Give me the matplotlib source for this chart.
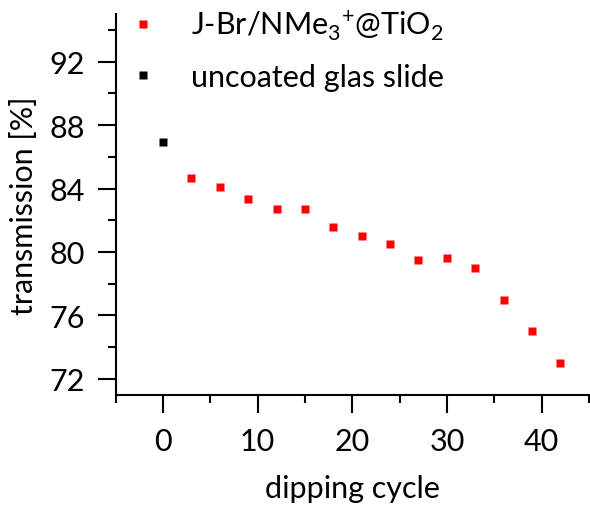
import matplotlib.pyplot as plt
import numpy as np

# data
cycles_coated = [3, 6, 9, 12, 15, 18, 21, 24, 27, 30, 33, 36, 39, 42]
trans_coated = [84.65, 84.1, 83.35, 82.7, 82.7, 81.55, 81.0, 80.5, 79.5, 79.6, 79.0, 77.0, 75.0, 73.0]
cycles_glass = [0]
trans_glass = [86.95]

label_coated = r'J-Br/NMe$_\mathregular{3}$$^\mathregular{+}$@TiO$_\mathregular{2}$'
label_glass = 'uncoated glas slide'

plt.rcParams['font.family'] = ['Lato', 'DejaVu Sans']
plt.rcParams['mathtext.fontset'] = 'custom'
plt.rcParams['mathtext.rm'] = 'Lato'

fig = plt.figure(figsize=(5.9, 5.06), dpi=100)
ax = fig.add_axes([0.196, 0.218, 0.802, 0.752])

ax.plot(cycles_coated, trans_coated, 's', color='#ff0000', ms=6.3, mec='none', label=label_coated)
ax.plot(cycles_glass, trans_glass, 's', color='black', ms=6.3, mec='none', label=label_glass)

ax.set_xlim(-5, 45)
ax.set_ylim(71, 95)
ax.set_xticks([0, 10, 20, 30, 40])
ax.set_xticks(np.arange(-5, 46, 5), minor=True)
ax.set_yticks([72, 76, 80, 84, 88, 92])
ax.set_yticks(np.arange(74, 95, 4), minor=True)

for side in ['top', 'right']:
    ax.spines[side].set_visible(False)
for side in ['left', 'bottom']:
    ax.spines[side].set_linewidth(1.5)

ax.tick_params(which='major', direction='out', length=13, width=1.5, labelsize=22)
ax.tick_params(axis='x', which='major', pad=10)
ax.tick_params(axis='y', which='major', pad=9)
ax.tick_params(which='minor', direction='out', length=6, width=1.5)

ax.set_xlabel('dipping cycle', fontsize=22, labelpad=14)
ax.set_ylabel('transmission [%]', fontsize=22, labelpad=8)

ax.legend(loc='upper left', bbox_to_anchor=(0.0, 1.05), frameon=False, fontsize=22,
          handlelength=1.0, handletextpad=1.05, labelspacing=0.7, borderaxespad=0)

fig.savefig('out.png', dpi=100)
